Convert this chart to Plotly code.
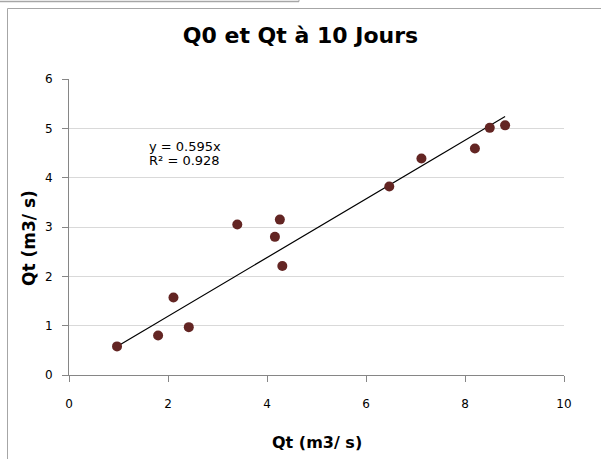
import plotly.graph_objects as go

q0 = [0.97, 1.80, 2.11, 2.42, 3.40, 4.16, 4.26, 4.31, 6.47, 7.12, 8.20, 8.50, 8.81]
qt = [0.58, 0.80, 1.57, 0.97, 3.05, 2.80, 3.15, 2.21, 3.82, 4.39, 4.59, 5.01, 5.06]
slope = 0.595
r2 = 0.928
x_ticks = [0, 2, 4, 6, 8, 10]
y_ticks = [0, 1, 2, 3, 4, 5, 6]
title = "Q0 et Qt à 10 Jours"
x_title = "Qt (m3/ s)"
y_title = "Qt (m3/ s)"

FONT = "DejaVu Sans"
L, R, T, B = 69, 564, 79, 375
W, H = 601, 459
FRAME = "#a6a6a6"

def px(x):
    return (x - L) / (R - L)

def py(y):
    return (B - y) / (B - T)

xmin, xmax = min(q0), max(q0)

fig = go.Figure()
fig.add_trace(go.Scatter(
    x=[xmin, xmax], y=[slope * xmin, slope * xmax], mode="lines",
    line=dict(color="black", width=1.2), hoverinfo="skip", showlegend=False))
fig.add_trace(go.Scatter(
    x=q0, y=qt, mode="markers",
    marker=dict(color="#632523", size=10, line=dict(width=0)),
    showlegend=False))

fig.update_layout(
    width=W, height=H,
    margin=dict(l=L, r=W - R, t=T, b=H - B),
    paper_bgcolor="white", plot_bgcolor="white",
    font=dict(family=FONT, color="black", size=12),
    title=dict(text=f"<b>{title}</b>", x=0.5, xanchor="center",
               y=1 - 35 / H, yanchor="middle", font=dict(size=22, family=FONT)),
    xaxis=dict(range=[0, 10], tickvals=x_ticks, showgrid=False, zeroline=False,
               showline=True, linecolor="#868686", linewidth=1,
               ticks="outside", ticklen=6, tickcolor="#868686",
               tickfont=dict(size=12), ticklabelstandoff=12),
    yaxis=dict(range=[0, 6], tickvals=y_ticks, showgrid=True, gridcolor="#d9d9d9",
               zeroline=False, showline=True, linecolor="#868686", linewidth=1,
               ticks="outside", ticklen=6, tickcolor="#868686",
               tickfont=dict(size=12), ticklabelstandoff=7),
    annotations=[
        dict(text=f"y = {slope}x", xref="paper", yref="paper",
             x=px(147), y=py(146), xanchor="left", yanchor="middle", align="left",
             showarrow=False, font=dict(size=13, family=FONT)),
        dict(text=f"R² = {r2}", xref="paper", yref="paper",
             x=px(147), y=py(160), xanchor="left", yanchor="middle", align="left",
             showarrow=False, font=dict(size=13, family=FONT)),
        dict(text=f"<b>{x_title}</b>", xref="paper", yref="paper",
             x=px(317), y=py(442), xanchor="center", yanchor="middle",
             showarrow=False, font=dict(size=16, family=FONT)),
        dict(text=f"<b>{y_title}</b>", xref="paper", yref="paper",
             x=px(29), y=py(238), xanchor="center", yanchor="middle", textangle=-90,
             showarrow=False, font=dict(size=17, family=FONT)),
    ],
    shapes=[
        dict(type="line", xref="paper", yref="paper", x0=px(7.5), x1=px(601),
             y0=py(8.5), y1=py(8.5), line=dict(color=FRAME, width=1)),
        dict(type="line", xref="paper", yref="paper", x0=px(7.5), x1=px(7.5),
             y0=py(8.5), y1=py(459), line=dict(color=FRAME, width=1)),
        dict(type="line", xref="paper", yref="paper", x0=px(0), x1=px(299),
             y0=py(1.5), y1=py(1.5), line=dict(color=FRAME, width=1.5)),
        dict(type="line", xref="paper", yref="paper", x0=px(299), x1=px(299),
             y0=py(0), y1=py(1.5), line=dict(color=FRAME, width=1)),
    ],
)
fig.write_html("out.html", config={"displayModeBar": False},
               post_script="document.body.style.margin='0';document.body.style.overflow='hidden';")
